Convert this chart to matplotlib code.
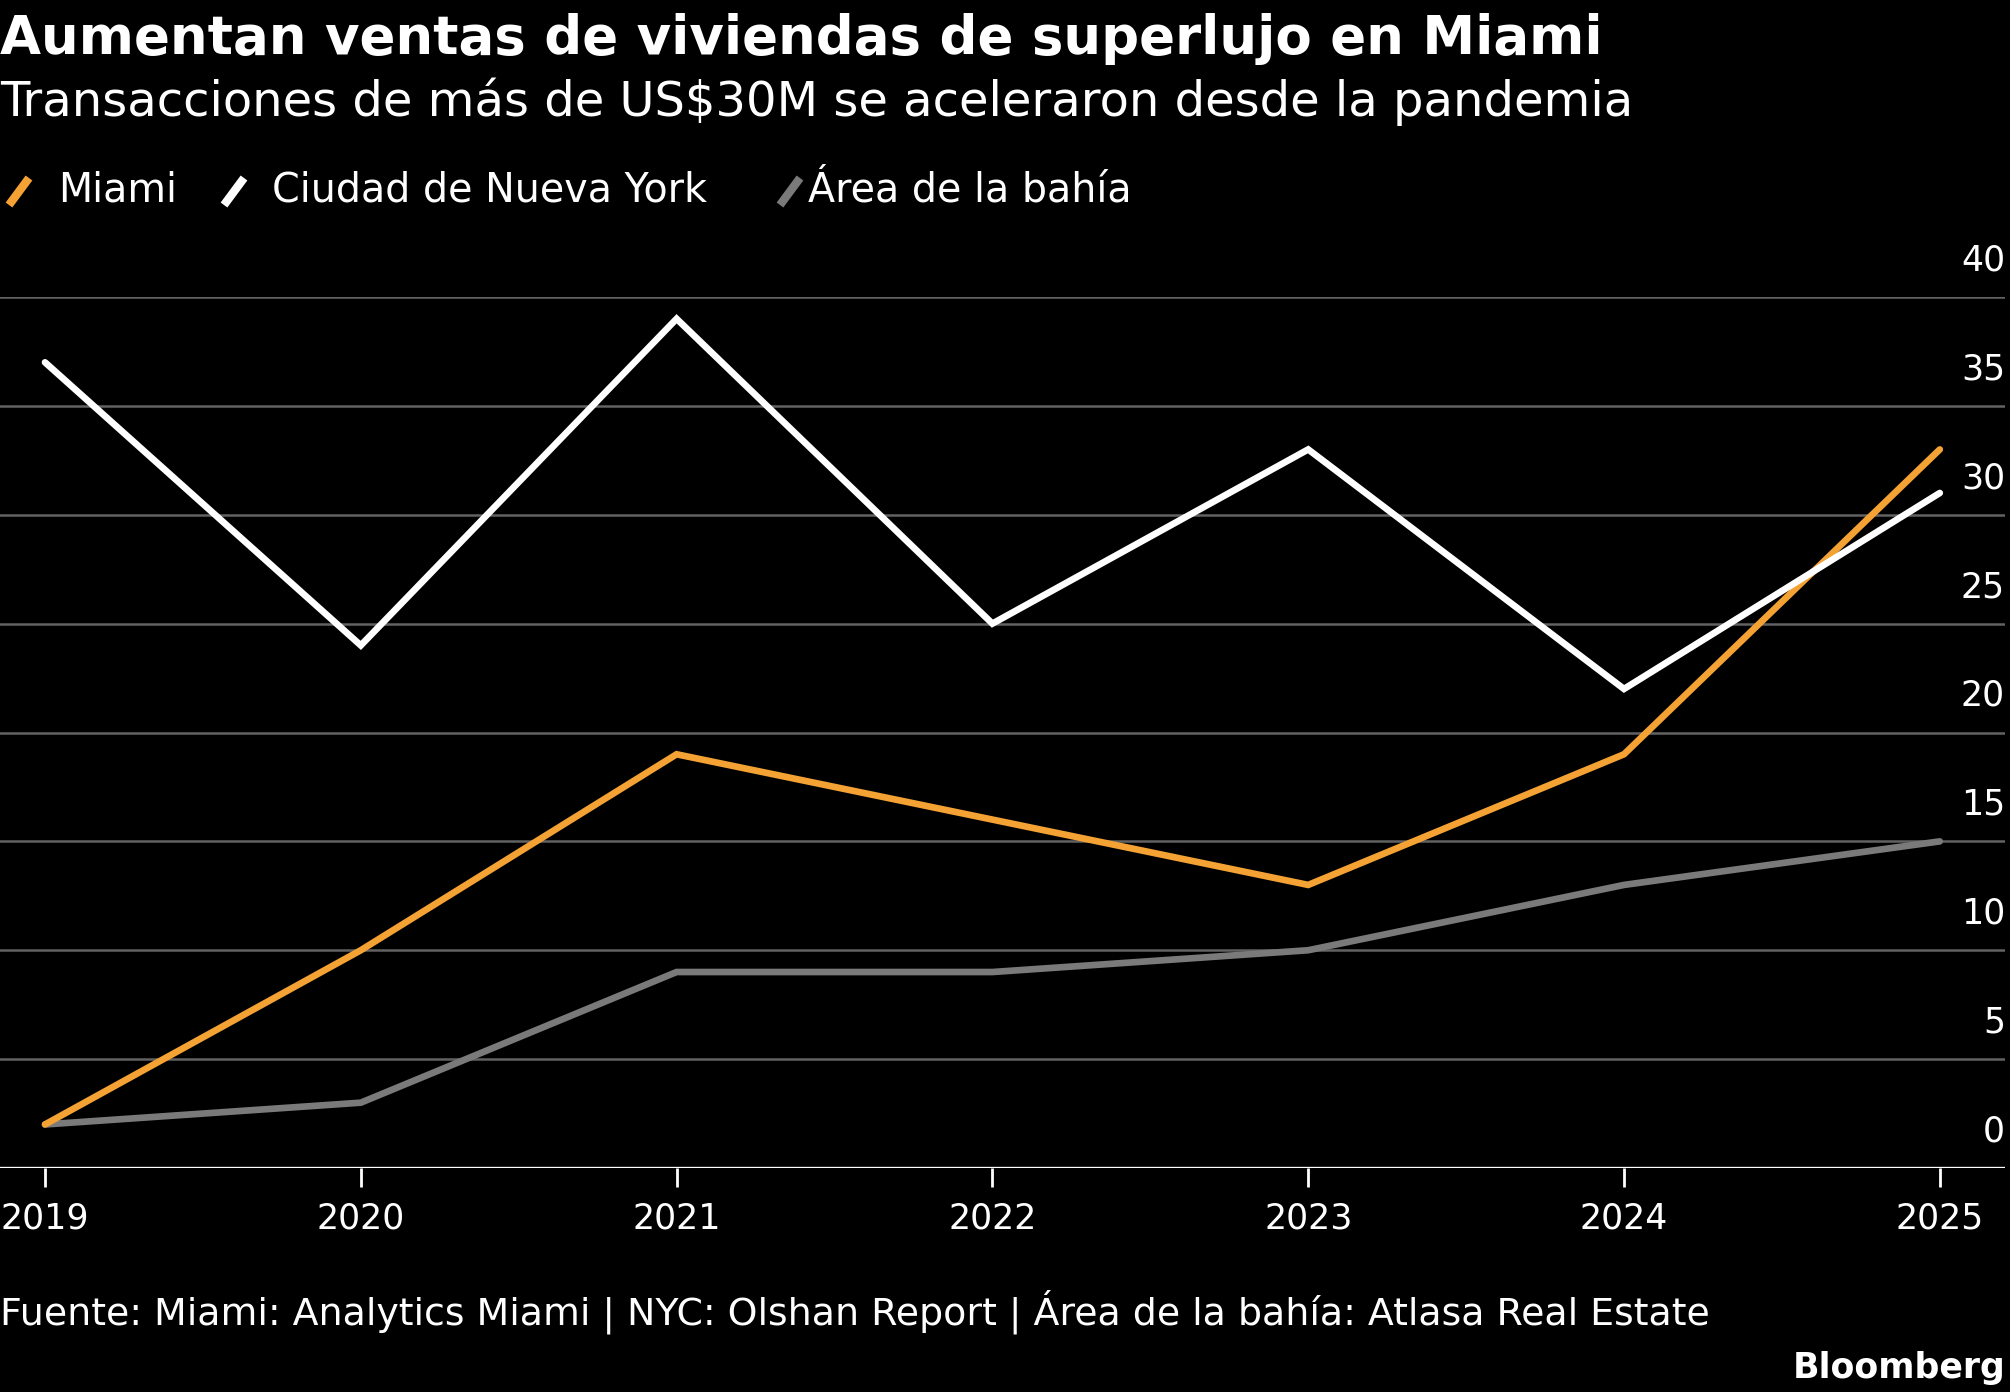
import numpy as np
import matplotlib
matplotlib.use("Agg")
import matplotlib.pyplot as plt
from matplotlib.lines import Line2D
import matplotlib.transforms as mtransforms

plt.rcParams['font.family'] = ['DejaVu Sans']

years = [2019, 2020, 2021, 2022, 2023, 2024, 2025]
miami = [2, 10, 19, 16, 13, 19, 33]
nyc = [37, 24, 39, 25, 33, 22, 31]
bay = [2, 3, 9, 9, 10, 13, 15]
series_names = ["Miami", "Ciudad de Nueva York", "Área de la bahía"]
series_colors = ["#F5A235", "#FFFFFF", "#7A7A7A"]
yticks = [0, 5, 10, 15, 20, 25, 30, 35, 40]

title = "Aumentan ventas de viviendas de superlujo en Miami"
subtitle = "Transacciones de más de US$30M se aceleraron desde la pandemia"
source = "Fuente: Miami: Analytics Miami | NYC: Olshan Report | Área de la bahía: Atlasa Real Estate"

W, H = 2010, 1392
fig = plt.figure(figsize=(W / 100, H / 100), dpi=100, facecolor="black")

def fx(px):
    return px / W

def fy(py):
    return 1 - py / H

# axes placement in pixels: left 0, right 2005, top (y=40) 297, bottom (y=0) 1168
ax = fig.add_axes([fx(0), fy(1168), fx(2005), (1168 - 297) / H])
ax.set_facecolor("black")
ax.set_xlim(2019 - 45 / 315.8, 2019 + 2005 / 315.8 - 45 / 315.8)
ax.set_ylim(0, 40)

for t in yticks[1:]:
    ax.axhline(t, color="#626262", lw=1.8, zorder=1)
ax.axhline(0, color="white", lw=2.4, zorder=3)

for vals, c in zip([bay, miami, nyc], [series_colors[2], series_colors[0], series_colors[1]]):
    ax.plot(years, vals, color=c, lw=4.8, solid_capstyle="round",
            solid_joinstyle="miter", zorder=4, clip_on=False)

for s in ax.spines.values():
    s.set_visible(False)
ax.set_yticks([])
ax.set_xticks(years)
ax.set_xticklabels([str(y) for y in years], color="white", fontsize=25)
ax.tick_params(axis="x", colors="white", length=14, width=2, pad=10,
               labelcolor="white")

trans = mtransforms.blended_transform_factory(ax.transAxes, ax.transData)
for t in yticks:
    ax.text(1.0, t + 0.9, str(t), transform=trans, ha="right", va="bottom",
            color="white", fontsize=25)

fig.text(fx(0), fy(54), title, color="white", fontsize=38.2, fontweight="bold",
         ha="left", va="baseline")
fig.text(fx(0), fy(116), subtitle, color="white", fontsize=34.6,
         ha="left", va="baseline")

# legend
leg_y = fy(190)
items = [(5, 58), (220, 272), (776, 808)]
for (kx, tx), name, c in zip(items, series_names, series_colors):
    fig.add_artist(Line2D([fx(kx + 4), fx(kx + 24)], [fy(205), fy(178)],
                          color=c, lw=6, solid_capstyle="butt"))
    fig.text(fx(tx), leg_y, name, color="white", fontsize=28.5,
             ha="left", va="center")

fig.text(fx(0), fy(1325), source, color="white", fontsize=27.3,
         ha="left", va="baseline")
fig.text(fx(2005), fy(1378), "Bloomberg", color="white", fontsize=25,
         fontweight="bold", ha="right", va="baseline")

fig.savefig("out.png", dpi=100, facecolor="black")
